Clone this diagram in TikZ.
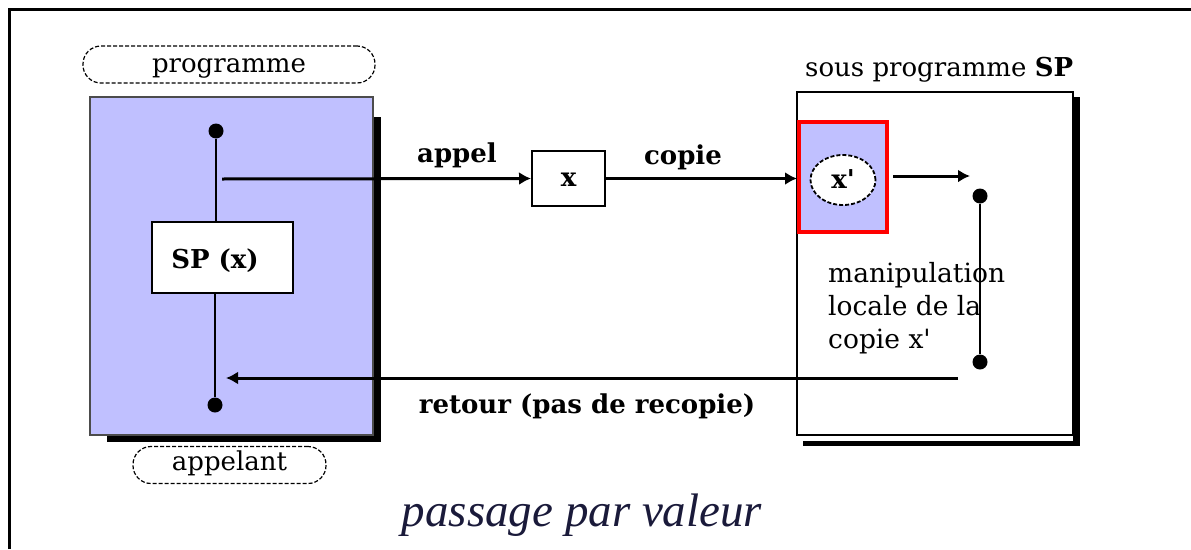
\documentclass[tikz,border=0pt]{standalone}
\usepackage{fontspec}
\setmainfont{DejaVu Serif}
\newfontfamily\capfont{Liberation Serif}
\usetikzlibrary{arrows.meta,shapes.geometric}
\definecolor{lav}{HTML}{C0C0FF}
\definecolor{capc}{HTML}{1A1A3A}
\begin{document}
\begin{tikzpicture}[x=1pt,y=-1pt,
 lbl/.style={font=\fontsize{26}{30}\selectfont, inner sep=0pt},
 blbl/.style={font=\fontsize{26}{30}\selectfont\bfseries, inner sep=0pt},
 pill/.style={draw, line width=1.2pt, dash pattern=on 4pt off 2pt, rounded corners=18pt, minimum height=37pt, inner sep=0pt},
 dotnode/.style={circle, fill, inner sep=0pt, minimum size=15pt},
 arr/.style={line width=3pt, -{Latex[length=12pt,width=13pt]}},
 conn/.style={line width=2pt}]
\useasboundingbox (0,0) rectangle (1191,549);
% outer frame
\draw[line width=3pt] (9,549) -- (9,9) -- (1191,9);

% caller box
\fill (107,117) rectangle (381,442);
\node[draw=black!70, line width=1.5pt, fill=lav, minimum width=283pt, minimum height=338pt, inner sep=0pt] (caller) at (231.5,266) {};
\node[pill, minimum width=292pt] (prog) at (229,64.5) {};
\node[lbl, anchor=base] (progl) at (229,72) {programme};
\node[pill, minimum width=193pt] (appelant) at (229.5,465) {};
\node[lbl, anchor=base] (appelantl) at (229.5,470) {appelant};

\node[dotnode] (d1) at (216,131) {};
\node[dotnode] (d2) at (215,405) {};
\node[draw, fill=white, line width=1.5pt, minimum width=141pt, minimum height=71pt, inner sep=0pt] (spx) at (222.5,257.5) {};
\node[blbl, anchor=base] (spxlabel) at (215,268) {SP (x)};
\draw[conn] (d1) -- (d1 |- spx.north);
\draw[conn] (spx.south -| d2) -- (d2);

% callee box
\fill (803,97) rectangle (1080,446);
\fill[white] (797,92) rectangle (1073,441);
\node[draw, line width=2pt, minimum width=276pt, minimum height=343pt, inner sep=0pt] (callee) at (935,263.5) {};
\node[lbl, anchor=base west] (sptitle) at (805,76) {sous programme \textbf{SP}};

\node[draw=red, line width=4pt, fill=lav, minimum width=88pt, minimum height=110pt, inner sep=0pt] (red) at (843,177) {};
\node[ellipse, draw, dash pattern=on 4pt off 2pt, line width=1.8pt, fill=white, minimum width=65pt, minimum height=50pt, inner sep=0pt] (xp) at (843,180) {};
\node[blbl, anchor=base] (xpl) at (843,188) {x\textquotesingle};

% x box
\node[draw, line width=2pt, minimum width=73pt, minimum height=55pt] (xbox) at (568.5,178.5) {};
\node[blbl, anchor=base] (xl) at (568.5,186) {x};

% appel / copie
\coordinate (a0) at (222,179);
\draw[arr] (a0) -- (xbox.west);
\node[blbl, anchor=base] (appel) at (457,162) {appel};
\draw[arr] (xbox.east) -- (red.west |- xbox.east);
\node[blbl, anchor=base] (copie) at (683,164) {copie};

\coordinate (o0) at (893,176);
\coordinate (o1) at (970,176);
\draw[arr] (o0) -- (o1);

\node[dotnode] (d3) at (980,196) {};
\node[dotnode] (d4) at (980,362) {};
\draw[conn] (d3) -- (d4);

\node[lbl, anchor=north west, align=left, font=\fontsize{26.5}{33}\selectfont] (manip) at (828,262) {manipulation\\locale de la\\copie x\textquotesingle};

% retour
\coordinate (r0) at (958,378);
\coordinate (r1) at (226,378);
\draw[arr] (r0) -- (r1);
\node[blbl, anchor=base] (retour) at (587,413) {retour (pas de recopie)};

\node[font=\capfont\itshape\fontsize{47}{52}\selectfont, text=capc, inner sep=0pt, anchor=base] (cap) at (582,526) {passage par valeur};
\end{tikzpicture}
\end{document}
